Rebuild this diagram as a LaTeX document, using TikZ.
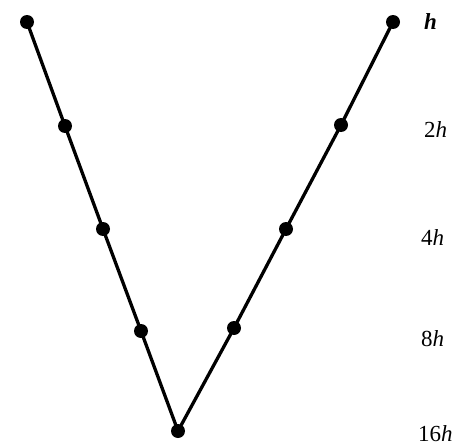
\documentclass[tikz,border=0pt]{standalone}
\usepackage{fontspec}
\setmainfont{Liberation Serif}
\begin{document}
\begin{tikzpicture}[x=1pt,y=-1pt,
  dot/.style={circle,fill=black,inner sep=0pt,minimum size=14pt},
  edge/.style={line width=3.3pt},
  lab/.style={anchor=base west,inner sep=0pt,font=\fontsize{23}{27}\selectfont}]
\useasboundingbox (0,0) rectangle (461,447);
\node[dot] (l1) at (27,22) {};
\node[dot] (l2) at (65,126) {};
\node[dot] (l3) at (103,229) {};
\node[dot] (l4) at (141,331) {};
\node[dot] (b) at (178,431) {};
\node[dot] (r4) at (234,328) {};
\node[dot] (r3) at (286,229) {};
\node[dot] (r2) at (341,125) {};
\node[dot] (r1) at (393,22) {};
\draw[edge] (l1.center) -- (l2.center) -- (l3.center) -- (l4.center) -- (b.center)
  -- (r4.center) -- (r3.center) -- (r2.center) -- (r1.center);
\node[lab] (t1) at (424,30) {\textit{\textbf{h}}};
\node[lab] (t2) at (424,137) {2\textit{h}};
\node[lab] (t3) at (421,245) {4\textit{h}};
\node[lab] (t4) at (421,346) {8\textit{h}};
\node[lab] (t5) at (418,441) {16\textit{h}};
\end{tikzpicture}
\end{document}
